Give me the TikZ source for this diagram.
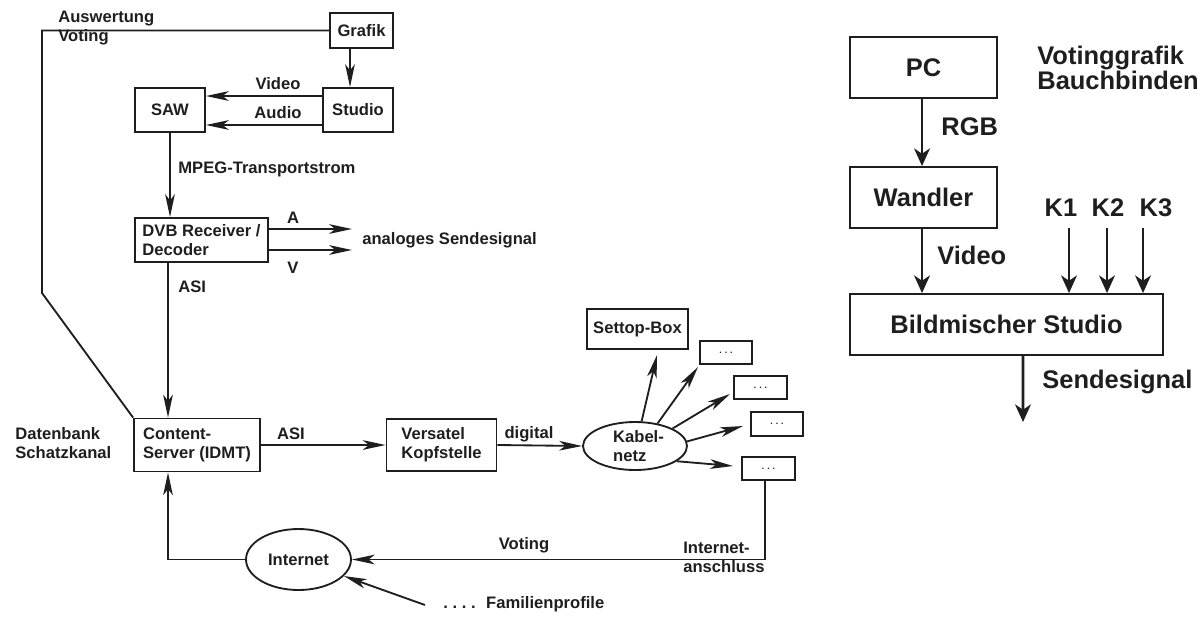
\documentclass[tikz,border=0pt]{standalone}
\usepackage{fontspec}
\setmainfont{Liberation Sans}
\usetikzlibrary{arrows.meta,shapes.geometric}
\definecolor{ink}{RGB}{30,30,30}
\begin{document}
\begin{tikzpicture}[x=0.02cm,y=-0.02cm,
  every node/.style={text=ink, font=\fontsize{9.45}{10.8}\selectfont\bfseries},
  box/.style={draw=ink, line width=1.05pt, inner sep=0pt, rectangle, align=center},
  ell/.style={draw=ink, line width=1.05pt, ellipse, inner sep=0pt, align=left},
  lab/.style={inner sep=0pt, align=left},
  conn/.style={draw=ink, line width=1.05pt},
  arr/.style={conn, -{Stealth[length=13pt,width=5.5pt,inset=3.5pt]}},
  big/.style={font=\fontsize{14.5}{14.2}\selectfont\bfseries},
  rbox/.style={box, line width=1.1pt},
  rarr/.style={draw=ink, line width=1.5pt, -{Stealth[length=10pt,width=9pt,inset=3pt]}},
]
\useasboundingbox (0,0) rectangle (1202,616);

% ---------- left diagram: boxes ----------
\node[box, minimum width=1.26cm, minimum height=0.70cm] (grafik) at (361.5,30.5) {Grafik};
\node[box, minimum width=1.40cm, minimum height=0.88cm] (studio) at (358,110) {Studio};
\node[box, minimum width=1.40cm, minimum height=0.88cm] (saw) at (170,110) {SAW};
\node[box, minimum width=2.66cm, minimum height=0.88cm, align=left] (dvb) at (201.5,240) {DVB Receiver /\\Decoder};
\node[box, minimum width=2.52cm, minimum height=1.06cm, align=left] (content) at (197,445) {Content-\\Server (IDMT)};
\node[box, minimum width=2.20cm, minimum height=1.04cm, align=left] (versatel) at (441.5,445) {Versatel\\Kopfstelle};
\node[ell, minimum width=2.08cm, minimum height=0.96cm] (kabel) at (635,446) {\hspace{4pt}Kabel-\\\hspace{4pt}netz};
\node[box, minimum width=2.02cm, minimum height=0.80cm] (settop) at (637.5,329) {Settop-Box};
\node[box, minimum width=1.04cm, minimum height=0.46cm] (d1) at (726,352.5) {\tiny .\,\,.\,\,.};
\node[box, minimum width=1.06cm, minimum height=0.46cm] (d2) at (760.5,387.5) {\tiny .\,\,.\,\,.};
\node[box, minimum width=1.04cm, minimum height=0.48cm] (d3) at (777,424) {\tiny .\,\,.\,\,.};
\node[box, minimum width=1.06cm, minimum height=0.46cm] (d4) at (768.5,468.5) {\tiny .\,\,.\,\,.};
\node[ell, minimum width=2.10cm, minimum height=1.22cm] (internet) at (298.5,559.5) {Internet};

% ---------- left diagram: labels ----------
\node[lab, anchor=west] (lausw) at (58,28.5) {Auswertung\\Voting};
\node[lab] (lvideo) at (278,84) {Video};
\node[lab] (laudio) at (278,113) {Audio};
\node[lab, anchor=west] (lmpeg) at (178,169) {MPEG-Transportstrom};
\node[lab] (la) at (293,218) {A};
\node[lab] (lv) at (293,268) {V};
\node[lab, anchor=west] (lanalog) at (362,240) {analoges Sendesignal};
\node[lab, anchor=west] (lasi1) at (178,287) {ASI};
\node[lab, anchor=west] (ldaten) at (15,443) {Datenbank\\Schatzkanal};
\node[lab] (lasi2) at (291,434) {ASI};
\node[lab] (ldigital) at (529,434) {digital};
\node[lab] (lvoting) at (524,545) {Voting};
\node[lab, anchor=west] (lanschluss) at (683,557) {Internet-\\anschluss};
\node[lab, anchor=west] (lfam) at (443,604) {.\ .\ .\ .\hspace{6pt}Familienprofile};

% ---------- left diagram: free ends ----------
\coordinate (aend) at (352,229);
\coordinate (vend) at (352,250);
\coordinate (t1) at (657,355);
\coordinate (t2) at (698,367);
\coordinate (t3) at (730,394);
\coordinate (t4) at (743,426);
\coordinate (t5) at (733,466);
\coordinate (famstart) at (425,605);
\coordinate (auswA) at (42,30.5);
\coordinate (auswB) at (42,293);

% ---------- left diagram: connectors ----------
\draw[arr] ([xshift=-0.23cm]grafik.south) -- ([xshift=-0.23cm]grafik.south |- studio.north);
\draw[arr] ([yshift=0.28cm]studio.west) -- ([yshift=0.28cm]studio.west -| saw.east);
\draw[arr] ([yshift=-0.30cm]studio.west) -- ([yshift=-0.30cm]studio.west -| saw.east);
\draw[arr] (saw.south) -- (saw.south |- dvb.north);
\draw[arr] ([yshift=0.22cm]dvb.east) -- (aend);
\draw[arr] ([yshift=-0.20cm]dvb.east) -- (vend);
\draw[arr] ([xshift=-0.67cm]dvb.south) -- ([xshift=-0.67cm]dvb.south |- content.north);
\draw[conn] (grafik.west) -- (auswA) -- (auswB) -- (content.north west);
\draw[arr] (content.east) -- (versatel.west);
\draw[arr] (versatel.east) -- (kabel.west);
\draw[arr] (kabel.75) -- (t1);
\draw[arr] (kabel.45) -- (t2);
\draw[arr] (kabel.25) -- (t3);
\draw[arr] (kabel.5) -- (t4);
\draw[arr] (kabel.-20) -- (t5);
\draw[arr] ([xshift=-0.07cm]d4.south) |- (internet.east);
\draw[arr] (internet.west) -| ([xshift=-0.58cm]content.south);
\draw[arr] (famstart) -- (internet.-20);

% ---------- right diagram ----------
\node[rbox, big, minimum width=2.94cm, minimum height=1.22cm] (pc) at (923.5,67.5) {PC};
\node[rbox, big, minimum width=2.94cm, minimum height=1.22cm] (wandler) at (923.5,197.5) {Wandler};
\node[rbox, big, minimum width=6.26cm, minimum height=1.22cm] (bild) at (1006.5,324.5) {Bildmischer Studio};

\node[lab, big, anchor=west] (lvoting2) at (1037,67.5) {Votinggrafik\\Bauchbinden};
\node[lab, big, anchor=west] (lrgb) at (941,127) {RGB};
\node[lab, big, anchor=west] (lvideo2) at (937,255) {Video};
\node[lab, big] (k1) at (1061,208) {K1};
\node[lab, big] (k2) at (1108,208) {K2};
\node[lab, big] (k3) at (1156,208) {K3};
\node[lab, big, anchor=west] (lsende) at (1042,382) {Sendesignal};

\coordinate (k1s) at (1069,228);
\coordinate (k2s) at (1107,228);
\coordinate (k3s) at (1143,228);
\coordinate (send) at (1023,422);

\draw[rarr] ([xshift=-0.03cm]pc.south) -- ([xshift=-0.03cm]pc.south |- wandler.north);
\draw[rarr] ([xshift=-0.03cm]wandler.south) -- ([xshift=-0.03cm]wandler.south |- bild.north);
\draw[rarr] (k1s) -- (k1s |- bild.north);
\draw[rarr] (k2s) -- (k2s |- bild.north);
\draw[rarr] (k3s) -- (k3s |- bild.north);
\draw[rarr] ([xshift=0.33cm]bild.south) -- (send);
\end{tikzpicture}
\end{document}
